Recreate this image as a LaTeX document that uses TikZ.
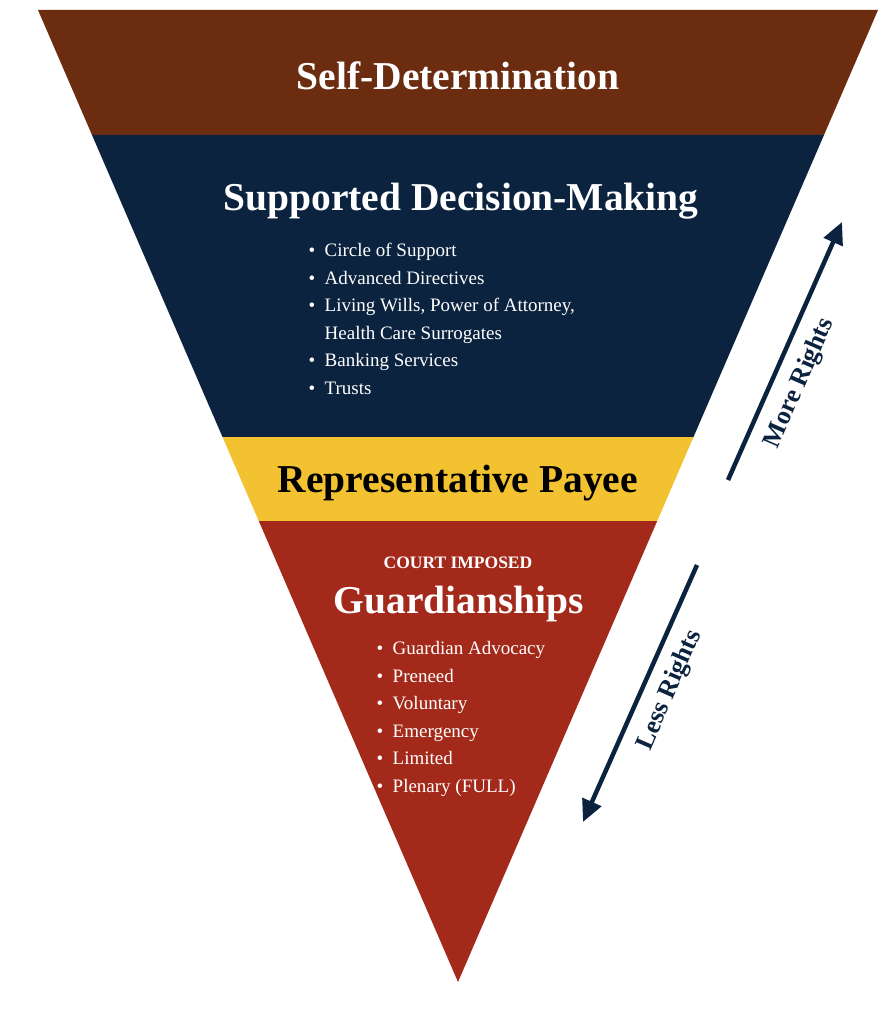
\documentclass[tikz,border=0pt]{standalone}
\usepackage{fontspec}
\setmainfont{Liberation Serif}
\usetikzlibrary{arrows.meta}
\definecolor{selfbrown}{HTML}{6B2C10}
\definecolor{sdmnavy}{HTML}{0C2340}
\definecolor{payeeyellow}{HTML}{F2C230}
\definecolor{guardred}{HTML}{A32A1A}
\tikzset{
  title/.style={font=\bfseries\fontsize{39.5}{42}\selectfont},
  item/.style={font=\fontsize{19}{27.5}\selectfont, anchor=north west, align=left, text=white},
  rights/.style={-{Triangle[length=22pt,width=20pt]}, line width=4.5pt, sdmnavy},
  rightslabel/.style={font=\bfseries\fontsize{26}{28}\selectfont, text=sdmnavy, rotate=66.5}
}
\begin{document}
\begin{tikzpicture}[x=1pt,y=-1pt]
	\useasboundingbox (0,0) rectangle (882,1024);
	% Bandas del triangulo
		\fill[selfbrown] (38,10) -- (878,10) -- (824,135) -- (92,135) -- cycle;
		\fill[sdmnavy] (92,135) -- (824,135) -- (693.5,437) -- (222.5,437) -- cycle;
		\fill[payeeyellow] (222.5,437) -- (693.5,437) -- (657.2,521) -- (258.8,521) -- cycle;
		\fill[guardred] (258.8,521) -- (657.2,521) -- (458,982) -- cycle;
	% Titulos
		\node[title, text=white] (self) at (458,76) {Self-Determination};
		\node[title, text=white] (sdm) at (461,201) {Supported Decision-Making};
		\node[title, text=black] (payee) at (458,483) {Representative Payee};
		\node[font=\bfseries\fontsize{17.5}{19}\selectfont, text=white] (court) at (458,563) {COURT IMPOSED};
		\node[title, text=white] (guard) at (459,604) {Guardianships};
	% Listas
		\node[item] (sdmlist) at (305,240) {%
			\textbullet\ \ Circle of Support\\
			\textbullet\ \ Advanced Directives\\
			\textbullet\ \ Living Wills, Power of Attorney,\\
			\phantom{\textbullet\ \ }Health Care Surrogates\\
			\textbullet\ \ Banking Services\\
			\textbullet\ \ Trusts};
		\node[item] (guardlist) at (373,638) {%
			\textbullet\ \ Guardian Advocacy\\
			\textbullet\ \ Preneed\\
			\textbullet\ \ Voluntary\\
			\textbullet\ \ Emergency\\
			\textbullet\ \ Limited\\
			\textbullet\ \ Plenary (FULL)};
	% Flechas
		\coordinate (morestart) at (728,480);
		\coordinate (moreend) at (842,222);
		\coordinate (lessstart) at (697,565);
		\coordinate (lessend) at (583,822);
		\draw[rights] (morestart) -- (moreend);
		\draw[rights] (lessstart) -- (lessend);
		\node[rightslabel] (more) at (800,383) {More Rights};
		\node[rightslabel] (less) at (670,690) {Less Rights};
\end{tikzpicture}
\end{document}
